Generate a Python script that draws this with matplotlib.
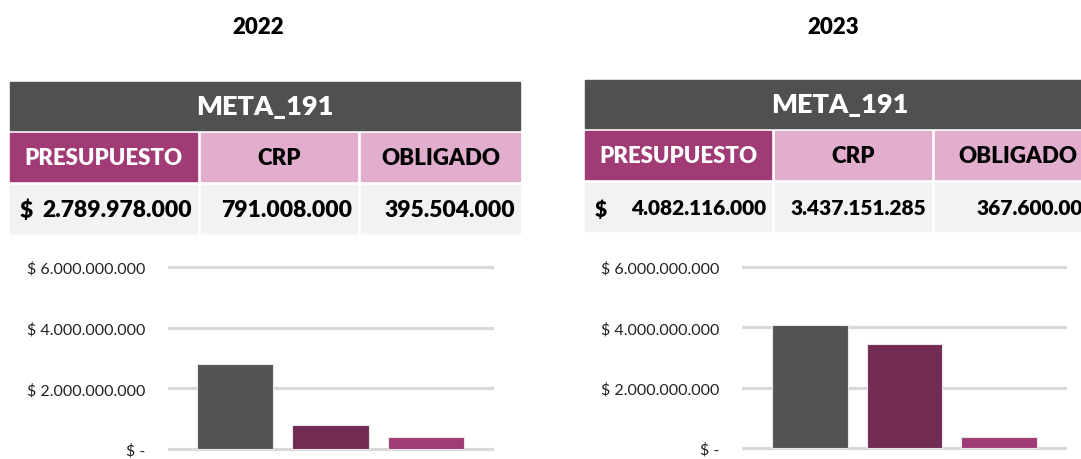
import matplotlib.pyplot as plt
from matplotlib.patches import Rectangle

years = ["2022", "2023"]
meta = "META_191"
categories = ["PRESUPUESTO", "CRP", "OBLIGADO"]
values_2022 = [2789978000, 791008000, 395504000]
values_2023 = [4082116000, 3437151285, 367600000]
tick_values = [0, 2000000000, 4000000000, 6000000000]
tick_labels = ["$ -", "$ 2.000.000.000", "$ 4.000.000.000", "$ 6.000.000.000"]

bar_colors = ["#535353", "#722b53", "#9f3b75"]
dark = "#505050"
magenta = "#a03b75"
pink = "#e2aecd"
light = "#f2f2f2"
grid = "#d9d9d9"

plt.rcParams['font.family'] = ['Lato', 'DejaVu Sans']

W, H = 1081, 460
fig = plt.figure(figsize=(W / 100, H / 100), dpi=100)

# background axes in pixel units for titles and the summary tables
bg = fig.add_axes([0, 0, 1, 1])
bg.set_xlim(0, W)
bg.set_ylim(H, 0)
bg.axis("off")


def fmt(v):
    return f"{v:,}".replace(",", ".")


def panel(x0, y0, cols, right, year, values, title_x, meta_x, vsize):
    # cols: list of (left, right) pixel edges for the three cells
    bg.text(title_x, 27, year, ha="center", va="center", fontsize=16, fontweight="heavy")
    bg.add_patch(Rectangle((x0, y0), right - x0, 48, color=dark))
    bg.text(meta_x, y0 + 24, meta, ha="center", va="center",
            fontsize=19.5, fontweight="heavy", color="white")
    r2 = y0 + 51
    for i, (a, b) in enumerate(cols):
        bg.add_patch(Rectangle((a, r2), b - a, 48, color=magenta if i == 0 else pink))
        bg.text((a + b) / 2, r2 + 25, categories[i], ha="center", va="center",
                fontsize=16, fontweight="heavy", color="white" if i == 0 else "black")
    r3 = r2 + 52
    for i, (a, b) in enumerate(cols):
        bg.add_patch(Rectangle((a, r3), b - a, 48, color=light))
        bg.text(b - 5, r3 + 25, fmt(values[i]), ha="right", va="center",
                fontsize=vsize, fontweight="heavy")
    bg.text(cols[0][0] + 10, r3 + 25, "$", ha="left", va="center",
            fontsize=vsize, fontweight="heavy")


panel(10, 83, [(10, 197), (201, 357), (361, 520)], 520, years[0], values_2022, 258, 265, 16.5)
panel(585, 81, [(585, 771), (775, 931), (935, 1100)], 1100, years[1], values_2023, 833, 840, 15)


def bars(left, right, zero_y, top_y, values, xmin, xmax):
    ppu = (zero_y - top_y) / 6e9
    lo, hi = -0.12e9, 6.12e9
    bottom_px = zero_y + (-lo) * ppu
    top_px = top_y - (hi - 6e9) * ppu
    ax = fig.add_axes([left / W, 1 - bottom_px / H, (right - left) / W, (bottom_px - top_px) / H])
    ax.set_ylim(lo, hi)
    ax.set_xlim(xmin, xmax)
    for y in tick_values:
        ax.axhline(y, color=grid, lw=2.3, zorder=0)
    ax.bar(range(3), values, width=0.8, color=bar_colors, edgecolor="#e8e8e8", lw=0.8, zorder=2)
    ax.set_yticks(tick_values)
    ax.set_yticklabels(tick_labels, fontsize=11.5, color="#222222")
    ax.tick_params(axis="y", length=0, pad=16)
    ax.set_xticks([])
    for s in ax.spines.values():
        s.set_visible(False)
    ax.patch.set_alpha(0)
    return ax


bars(168, 494, 450, 268, values_2022, -0.70, 2.71)
bars(742, 1067, 449, 268, values_2023, -0.72, 2.72)

fig.savefig("out.png", dpi=100)
